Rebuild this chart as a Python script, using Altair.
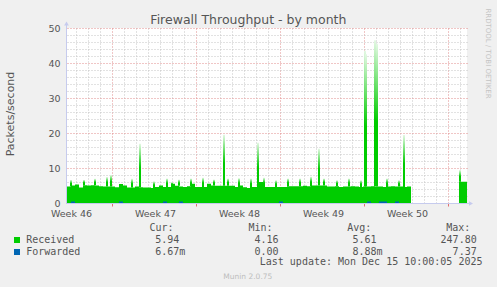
import altair as alt
import pandas as pd

# ---------------- data ----------------
# Received: baseline sampled every 8 hours (x axis = hours since graph start)
received_base = [
    4.7, 5.0, 5.3, 4.4, 5.1, 5.0, 5.1, 5.0, 4.8, 4.7,
    4.7, 4.7, 4.5, 5.4, 5.0, 4.4, 4.4, 4.7, 4.5, 4.4,
    4.4, 4.3, 4.6, 5.0, 4.6, 4.6, 5.5, 4.9, 4.7, 4.6,
    4.8, 5.5, 4.6, 4.6, 4.6, 5.5, 5.0, 4.9, 4.9, 4.9,
    4.9, 4.9, 4.6, 5.0, 4.5, 4.3, 4.6, 4.6, 6.0, 4.6,
    4.6, 4.6, 4.6, 4.6, 4.6, 4.8, 4.8, 4.8, 4.8, 4.9,
    4.8, 5.0, 5.0, 5.0, 5.0, 4.7, 4.7, 4.8, 4.6, 4.7,
    4.7, 4.8, 4.7, 4.6, 4.7, 4.7, 4.8, 4.7, 4.7, 4.6,
    4.7, 4.8, 4.7, 4.7, 4.6, 4.7, 4.7,
    None, None, None, None, None, None, None, None, None, None, None,
    6.1, 6.1, 6.1,
]
# Forwarded on the same time grid
forwarded = [0.0] * 87 + [None] * 11 + [0.0] * 3
for _i in [1, 13, 24, 28, 53, 75, 78, 79, 82]:
    forwarded[_i] = 0.4
sample_step_h = 8

# Received spikes: (hour, peak value)
spike_hours = [6, 32, 54, 78, 86, 128, 144, 172, 198, 208, 222, 246, 270, 292,
               312, 320, 342, 366, 380, 392, 416, 440, 464, 486, 502, 512, 538,
               562, 586, 594, 596, 614, 618, 638, 662, 672, 784]
spike_peaks = [6.6, 6.6, 6.9, 7.4, 8.0, 6.9, 16.9, 6.2, 7.0, 5.9, 6.7, 7.0, 7.2, 6.7,
               19.5, 7.0, 7.1, 7.0, 17.2, 7.2, 6.5, 7.0, 7.0, 7.5, 15.5, 7.0, 6.5,
               7.0, 6.5, 43.5, 42.5, 46.5, 45.5, 7.0, 6.5, 19.4, 9.4]

week_labels = ["Week 46", "Week 47", "Week 48", "Week 49", "Week 50"]
week_label_hours = [8, 176, 344, 512, 680]
major_grid_hours = [90, 258, 426, 594, 762]
minor_grid_hours = list(range(18, 800, 24))

series_names = ["Received", "Forwarded"]
series_colors = ["#00cc00", "#0066b3"]
cur_vals = ["5.94", "6.67m"]
min_vals = ["4.16", "0.00"]
avg_vals = ["5.61", "8.88m"]
max_vals = ["247.80", "7.37"]
title_text = "Firewall Throughput - by month"
y_title = "Packets/second"
last_update = "Last update: Mon Dec 15 10:00:05 2025"
munin_ver = "Munin 2.0.75"
rrd_credit = "RRDTOOL / TOBI OETIKER"

# ---------------- tables ----------------
hours = [i * sample_step_h for i in range(len(received_base))]
base_df = pd.DataFrame({"t": hours, "v": received_base})
fwd_df = pd.DataFrame({"t": hours, "v": forwarded})
spike_df = pd.DataFrame({
    "t": spike_hours,
    "peak": spike_peaks,
    "base": [received_base[h // sample_step_h] for h in spike_hours],
})
spike_df["t2"] = spike_df["t"] + 4

GREEN, BLUE = series_colors
RED_GRID = "#e08c8c"
GRAY_GRID = "#c4c4c4"
AXIS_COL = "#c6cbee"
TXT = "#555555"

x_vals = sorted(set(minor_grid_hours + week_label_hours))
label_expr = " : ".join(
    f"datum.value == {h} ? '{w}'" for h, w in zip(week_label_hours, week_labels)
) + " : ''"
major_test = f"indexof({major_grid_hours}, datum.value) >= 0"
label_test = f"indexof({week_label_hours}, datum.value) >= 0"

x_scale = alt.Scale(domain=[0, 800], nice=False, zero=False)
y_scale = alt.Scale(domain=[0, 50], nice=False)

x_axis = alt.Axis(
    values=x_vals, title=None, domain=False,
    grid=True, gridDash=[1, 2], gridWidth=1,
    gridColor={"condition": {"test": major_test, "value": RED_GRID}, "value": GRAY_GRID},
    gridOpacity={"condition": {"test": label_test, "value": 0}, "value": 1},
    ticks=True, tickSize=3, tickColor="#e07070",
    tickOpacity={"condition": {"test": major_test, "value": 1}, "value": 0},
    labelExpr=label_expr, labelFont="DejaVu Sans", labelFontSize=9.5,
    labelColor=TXT, labelPadding=2.5, labelOverlap=False, labelFlush=False,
)
y_axis = alt.Axis(
    values=list(range(0, 51, 2)), title=None, domain=False,
    grid=True, gridDash=[1, 2], gridWidth=1,
    gridColor={"condition": {"test": "datum.value % 10 == 0", "value": RED_GRID}, "value": GRAY_GRID},
    gridOpacity={"condition": {"test": "datum.value == 0", "value": 0}, "value": 1},
    ticks=False,
    labelExpr="datum.value % 10 == 0 ? datum.label : ''",
    labelFont="DejaVu Sans", labelFontSize=9.5, labelColor=TXT,
    labelPadding=7, labelOverlap=False, labelFlush=False,
)

base_layer = alt.Chart(base_df).mark_area(
    interpolate="step-after", color=GREEN
).encode(
    x=alt.X("t:Q", scale=x_scale, axis=x_axis),
    y=alt.Y("v:Q", scale=y_scale, axis=y_axis),
)

spike_layer = alt.Chart(spike_df).mark_rect(
    color=alt.Gradient(
        gradient="linear",
        stops=[
            alt.GradientStop(color="#e4f8e4", offset=0),
            alt.GradientStop(color="#00cc00", offset=0.55),
            alt.GradientStop(color="#00cc00", offset=1),
        ],
        x1=0, x2=0, y1=0, y2=1,
    )
).encode(
    x=alt.X("t:Q", scale=x_scale, axis=x_axis),
    x2="t2:Q",
    y=alt.Y("peak:Q", scale=y_scale, axis=y_axis),
    y2="base:Q",
)

fwd_layer = alt.Chart(fwd_df).mark_area(
    interpolate="step-after", color=BLUE
).encode(
    x=alt.X("t:Q", scale=x_scale, axis=x_axis),
    y=alt.Y("v:Q", scale=y_scale, axis=y_axis),
)

dummy = pd.DataFrame({"k": [0]})


def txt(text, x, y, size=10, font="DejaVu Sans Mono", align="left",
        baseline="alphabetic", color=TXT, angle=0):
    kw = dict(text=text, font=font, fontSize=size, align=align,
              baseline=baseline, color=color)
    if angle:
        kw["angle"] = angle
    return alt.Chart(dummy).mark_text(**kw).encode(x=alt.value(x), y=alt.value(y))


axis_lines = [
    alt.Chart(dummy).mark_rule(color=AXIS_COL, strokeWidth=1).encode(
        x=alt.value(-0.5), y=alt.value(-3), y2=alt.value(175)),
    alt.Chart(dummy).mark_rule(color=AXIS_COL, strokeWidth=1).encode(
        x=alt.value(-1), x2=alt.value(402), y=alt.value(175.5)),
    alt.Chart(dummy).mark_point(shape="triangle-up", filled=True, size=22,
                                color=AXIS_COL, opacity=1).encode(
        x=alt.value(-0.5), y=alt.value(-4.5)),
    alt.Chart(dummy).mark_point(shape="triangle-right", filled=True, size=22,
                                color=AXIS_COL, opacity=1).encode(
        x=alt.value(404), y=alt.value(175.5)),
]

texts = [
    txt(title_text, 181.4, -4, size=12.5, font="DejaVu Sans", align="center"),
    txt(y_title, -55.6, 86, size=11, font="DejaVu Sans", align="center",
        baseline="middle", angle=270),
    txt(rrd_credit, 421.1, 25.5, size=7, font="DejaVu Sans", align="center",
        baseline="middle", color="#c4c4c4", angle=90),
    txt("Cur:", 82.5, 202.7), txt("Min:", 181.5, 202.7),
    txt("Avg:", 280.2, 202.7), txt("Max:", 379.2, 202.7),
    txt(last_update, 415.5, 237, align="right"),
    txt(munin_ver, 180.8, 251, size=7.5, font="DejaVu Sans", align="center",
        color="#bdbdbd"),
]
row_y = [215, 226.7]
box_y = [(209, 215), (221, 227)]
for i in range(2):
    texts.append(alt.Chart(dummy).mark_rect(color=series_colors[i]).encode(
        x=alt.value(-53), x2=alt.value(-47),
        y=alt.value(box_y[i][0]), y2=alt.value(box_y[i][1])))
    texts.append(txt(series_names[i], -40.8, row_y[i]))
    texts.append(txt(cur_vals[i], 88.2, row_y[i]))
    texts.append(txt(min_vals[i], 187.5, row_y[i]))
    texts.append(txt(avg_vals[i], 285.5, row_y[i]))
    texts.append(txt(max_vals[i], 409.7, row_y[i], align="right"))

chart = alt.layer(base_layer, spike_layer, fwd_layer, *axis_lines, *texts).properties(
    width=400, height=175,
    background="#f0f0f0",
    autosize=alt.AutoSizeParams(type="none"),
    padding={"left": 67, "top": 28, "right": 30, "bottom": 84},
).configure_view(stroke=None, fill="white")

chart.save("out.html", embed_options={"renderer": "svg", "actions": False})
